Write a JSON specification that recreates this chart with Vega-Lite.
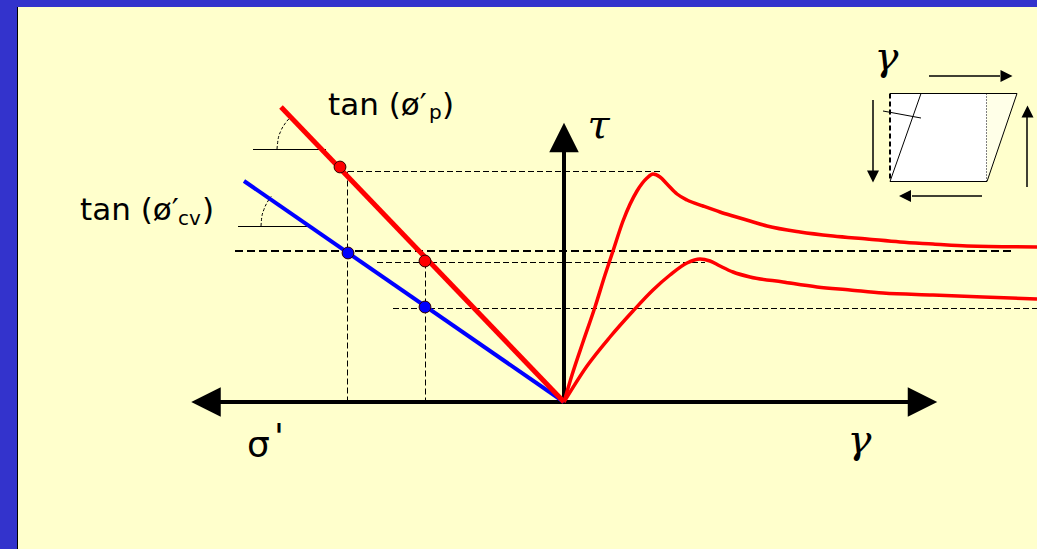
{
  "$schema": "https://vega.github.io/schema/vega-lite/v6.json",
  "width": 1019,
  "height": 542,
  "autosize": {"type": "none"},
  "padding": {"left": 18, "top": 7, "right": 0, "bottom": 0},
  "background": "#3333CC",
  "config": {"view": {"stroke": null, "fill": "#FFFFCC"}},
  "datasets": {
    "panel": [{"x": 326, "x2": 423, "y": 221, "y2": 309}],
    "wedge": [
      {"x": 423, "y": 309, "y2": 221},
      {"x": 453, "y": 309, "y2": 309}
    ],
    "segments": [
      {"kind": "frame", "x": -546.5, "y": -147, "x2": -546.5, "y2": 395},
      {"kind": "guide", "x": -216, "y": 230.5, "x2": 98, "y2": 230.5},
      {"kind": "guide", "x": -216.5, "y": 230.5, "x2": -216.5, "y2": 0},
      {"kind": "guide", "x": -187, "y": 139.5, "x2": 141, "y2": 139.5},
      {"kind": "guide", "x": -138.5, "y": 139.5, "x2": -138.5, "y2": 0},
      {"kind": "guide", "x": -171, "y": 93.5, "x2": 473, "y2": 93.5},
      {"kind": "guide-bold", "x": -329, "y": 151, "x2": 449, "y2": 151},
      {"kind": "angle", "x": -311, "y": 252.5, "x2": -238, "y2": 252.5},
      {"kind": "angle", "x": -326, "y": 175.5, "x2": -252, "y2": 175.5},
      {"kind": "icon", "x": 326, "y": 308.5, "x2": 453, "y2": 308.5},
      {"kind": "icon", "x": 326, "y": 220.5, "x2": 423, "y2": 220.5},
      {"kind": "icon", "x": 326, "y": 220.5, "x2": 357, "y2": 308.5},
      {"kind": "icon", "x": 423, "y": 220.5, "x2": 453, "y2": 308.5},
      {"kind": "icon", "x": 319, "y": 291, "x2": 357, "y2": 284},
      {"kind": "icon-dash", "x": 326, "y": 308.5, "x2": 326, "y2": 220.5},
      {"kind": "icon-dot", "x": 422.5, "y": 308.5, "x2": 422.5, "y2": 220.5},
      {"kind": "shaft", "x": 365, "y": 326, "x2": 436, "y2": 326},
      {"kind": "shaft", "x": 309, "y": 302, "x2": 309, "y2": 230},
      {"kind": "shaft", "x": 463, "y": 215, "x2": 463, "y2": 285},
      {"kind": "shaft", "x": 418, "y": 206, "x2": 348, "y2": 206},
      {"kind": "axis", "x": -349, "y": 0, "x2": 348, "y2": 0},
      {"kind": "axis", "x": 0, "y": 0, "x2": 0, "y2": 254},
      {"kind": "cv-line", "x": -320, "y": 221, "x2": 0, "y2": 0},
      {"kind": "peak-line", "x": -283, "y": 295, "x2": 0, "y2": 0}
    ],
    "curves": [
      {"series": "dense", "x": 0, "y": 0},
      {"series": "dense", "x": 8, "y": 27},
      {"series": "dense", "x": 19, "y": 60},
      {"series": "dense", "x": 31, "y": 95},
      {"series": "dense", "x": 41, "y": 127},
      {"series": "dense", "x": 49, "y": 151},
      {"series": "dense", "x": 59, "y": 181},
      {"series": "dense", "x": 73, "y": 211},
      {"series": "dense", "x": 83, "y": 224},
      {"series": "dense", "x": 89, "y": 228},
      {"series": "dense", "x": 96, "y": 225},
      {"series": "dense", "x": 103, "y": 218},
      {"series": "dense", "x": 113, "y": 208},
      {"series": "dense", "x": 123, "y": 202},
      {"series": "dense", "x": 139, "y": 196},
      {"series": "dense", "x": 156, "y": 190},
      {"series": "dense", "x": 169, "y": 186},
      {"series": "dense", "x": 186, "y": 181},
      {"series": "dense", "x": 203, "y": 176},
      {"series": "dense", "x": 236, "y": 170},
      {"series": "dense", "x": 269, "y": 166},
      {"series": "dense", "x": 303, "y": 163},
      {"series": "dense", "x": 336, "y": 160},
      {"series": "dense", "x": 369, "y": 158},
      {"series": "dense", "x": 403, "y": 156},
      {"series": "dense", "x": 473, "y": 155},
      {"series": "loose", "x": 0, "y": 0},
      {"series": "loose", "x": 23, "y": 36},
      {"series": "loose", "x": 46, "y": 65},
      {"series": "loose", "x": 69, "y": 91},
      {"series": "loose", "x": 89, "y": 112},
      {"series": "loose", "x": 106, "y": 127},
      {"series": "loose", "x": 123, "y": 139},
      {"series": "loose", "x": 136, "y": 143},
      {"series": "loose", "x": 146, "y": 141},
      {"series": "loose", "x": 156, "y": 136},
      {"series": "loose", "x": 169, "y": 130},
      {"series": "loose", "x": 186, "y": 125},
      {"series": "loose", "x": 219, "y": 120},
      {"series": "loose", "x": 253, "y": 115},
      {"series": "loose", "x": 286, "y": 112},
      {"series": "loose", "x": 319, "y": 109},
      {"series": "loose", "x": 369, "y": 107},
      {"series": "loose", "x": 419, "y": 105},
      {"series": "loose", "x": 473, "y": 103}
    ],
    "arcs": [
      {"series": "peak-arc", "x": -287, "y": 253},
      {"series": "peak-arc", "x": -286, "y": 262.1},
      {"series": "peak-arc", "x": -283.2, "y": 270.9},
      {"series": "peak-arc", "x": -278.6, "y": 278.9},
      {"series": "peak-arc", "x": -272.4, "y": 285.7},
      {"series": "cv-arc", "x": -303, "y": 176},
      {"series": "cv-arc", "x": -302.3, "y": 184.3},
      {"series": "cv-arc", "x": -300.1, "y": 192.4},
      {"series": "cv-arc", "x": -296.6, "y": 200},
      {"series": "cv-arc", "x": -292.8, "y": 205.6}
    ],
    "dots": [
      {"kind": "peak", "x": -224, "y": 235},
      {"kind": "peak", "x": -139, "y": 141},
      {"kind": "cv", "x": -216, "y": 149},
      {"kind": "cv", "x": -139, "y": 95}
    ],
    "heads": [
      {"kind": "axis", "dir": "left", "x": -358, "y": 0},
      {"kind": "axis", "dir": "right", "x": 358.5, "y": 0},
      {"kind": "axis", "dir": "up", "x": 0, "y": 264.5},
      {"kind": "icon", "dir": "right", "x": 442.5, "y": 326},
      {"kind": "icon", "dir": "down", "x": 309, "y": 225.5},
      {"kind": "icon", "dir": "up", "x": 463.5, "y": 290.5},
      {"kind": "icon", "dir": "left", "x": 341, "y": 206}
    ],
    "labels": [
      {"role": "main", "text": "tan (ø′", "x": -236, "y": 287},
      {"role": "sub", "text": "p", "x": -135, "y": 283},
      {"role": "main", "text": ")", "x": -122, "y": 287},
      {"role": "main", "text": "tan (ø′", "x": -484, "y": 182},
      {"role": "sub", "text": "cv", "x": -386, "y": 177},
      {"role": "main", "text": ")", "x": -362, "y": 182},
      {"role": "greek", "text": "τ", "x": 34.5, "y": 264},
      {"role": "greek", "text": "γ", "x": 295.5, "y": -51},
      {"role": "greek", "text": "γ", "x": 322.5, "y": 332},
      {"role": "sigma", "text": "σ", "x": -317, "y": -55},
      {"role": "sigma", "text": "'", "x": -290, "y": -47}
    ]
  },
  "encoding": {
    "x": {"field": "x", "type": "quantitative", "scale": {"domain": [-546, 473], "nice": false, "zero": false}, "axis": null},
    "y": {"field": "y", "type": "quantitative", "scale": {"domain": [-147, 395], "nice": false, "zero": false}, "axis": null}
  },
  "layer": [
    {
      "data": {"name": "panel"},
      "mark": {"type": "rect", "fill": "#FFFFFF"},
      "encoding": {"x2": {"field": "x2"}, "y2": {"field": "y2"}}
    },
    {
      "data": {"name": "wedge"},
      "mark": {"type": "area", "fill": "#FFFFE8", "opacity": 1},
      "encoding": {"y2": {"field": "y2"}}
    },
    {
      "data": {"name": "segments"},
      "transform": [{"filter": "datum.kind === 'frame'"}],
      "mark": {"type": "rule", "color": "#000000", "strokeWidth": 1},
      "encoding": {"x2": {"field": "x2"}, "y2": {"field": "y2"}}
    },
    {
      "data": {"name": "segments"},
      "transform": [{"filter": "datum.kind === 'guide'"}],
      "mark": {"type": "rule", "color": "#000000", "strokeWidth": 1, "strokeDash": [6, 3]},
      "encoding": {"x2": {"field": "x2"}, "y2": {"field": "y2"}}
    },
    {
      "data": {"name": "segments"},
      "transform": [{"filter": "datum.kind === 'guide-bold'"}],
      "mark": {"type": "rule", "color": "#000000", "strokeWidth": 2, "strokeDash": [8, 4]},
      "encoding": {"x2": {"field": "x2"}, "y2": {"field": "y2"}}
    },
    {
      "data": {"name": "segments"},
      "transform": [{"filter": "datum.kind === 'angle' || datum.kind === 'icon'"}],
      "mark": {"type": "rule", "color": "#000000", "strokeWidth": 1},
      "encoding": {"x2": {"field": "x2"}, "y2": {"field": "y2"}}
    },
    {
      "data": {"name": "segments"},
      "transform": [{"filter": "datum.kind === 'icon-dash'"}],
      "mark": {"type": "rule", "color": "#000000", "strokeWidth": 2, "strokeDash": [5, 3]},
      "encoding": {"x2": {"field": "x2"}, "y2": {"field": "y2"}}
    },
    {
      "data": {"name": "segments"},
      "transform": [{"filter": "datum.kind === 'icon-dot'"}],
      "mark": {"type": "rule", "color": "#000000", "strokeWidth": 1, "strokeDash": [1, 2]},
      "encoding": {"x2": {"field": "x2"}, "y2": {"field": "y2"}}
    },
    {
      "data": {"name": "segments"},
      "transform": [{"filter": "datum.kind === 'shaft'"}],
      "mark": {"type": "rule", "color": "#000000", "strokeWidth": 1.5},
      "encoding": {"x2": {"field": "x2"}, "y2": {"field": "y2"}}
    },
    {
      "data": {"name": "segments"},
      "transform": [{"filter": "datum.kind === 'axis'"}],
      "mark": {"type": "rule", "color": "#000000", "strokeWidth": 4},
      "encoding": {"x2": {"field": "x2"}, "y2": {"field": "y2"}}
    },
    {
      "data": {"name": "arcs"},
      "mark": {"type": "line", "color": "#000000", "strokeWidth": 1, "strokeDash": [3, 2], "interpolate": "monotone"},
      "encoding": {"detail": {"field": "series"}}
    },
    {
      "data": {"name": "curves"},
      "mark": {"type": "line", "color": "#FF0000", "strokeWidth": 3.5, "interpolate": "monotone"},
      "encoding": {"detail": {"field": "series"}}
    },
    {
      "data": {"name": "segments"},
      "transform": [{"filter": "datum.kind === 'cv-line'"}],
      "mark": {"type": "rule", "color": "#0000FF", "strokeWidth": 4},
      "encoding": {"x2": {"field": "x2"}, "y2": {"field": "y2"}}
    },
    {
      "data": {"name": "segments"},
      "transform": [{"filter": "datum.kind === 'peak-line'"}],
      "mark": {"type": "rule", "color": "#FF0000", "strokeWidth": 5},
      "encoding": {"x2": {"field": "x2"}, "y2": {"field": "y2"}}
    },
    {
      "data": {"name": "dots"},
      "mark": {"type": "point", "filled": true, "opacity": 1, "size": 140, "stroke": "#330000", "strokeWidth": 1},
      "encoding": {
        "fill": {"field": "kind", "type": "nominal", "scale": {"domain": ["peak", "cv"], "range": ["#FF0000", "#0000FF"]}, "legend": null}
      }
    },
    {
      "data": {"name": "heads"},
      "transform": [{"filter": "datum.kind === 'axis'"}],
      "mark": {"type": "point", "filled": true, "opacity": 1, "size": 870, "color": "#000000"},
      "encoding": {
        "shape": {"field": "dir", "type": "nominal", "scale": {"domain": ["left", "right", "up", "down"], "range": ["M1,-1L-1,0L1,1Z", "M-1,-1L1,0L-1,1Z", "M-1,1L0,-1L1,1Z", "M-1,-1L0,1L1,-1Z"]}, "legend": null}
      }
    },
    {
      "data": {"name": "heads"},
      "transform": [{"filter": "datum.kind === 'icon'"}],
      "mark": {"type": "point", "filled": true, "opacity": 1, "size": 144, "color": "#000000"},
      "encoding": {
        "shape": {"field": "dir", "type": "nominal", "scale": {"domain": ["left", "right", "up", "down"], "range": ["M1,-1L-1,0L1,1Z", "M-1,-1L1,0L-1,1Z", "M-1,1L0,-1L1,1Z", "M-1,-1L0,1L1,-1Z"]}, "legend": null}
      }
    },
    {
      "data": {"name": "labels"},
      "transform": [{"filter": "datum.role === 'main'"}],
      "mark": {"type": "text", "font": "DejaVu Sans", "fontSize": 31, "align": "left", "baseline": "alphabetic", "color": "#000000"},
      "encoding": {"text": {"field": "text"}}
    },
    {
      "data": {"name": "labels"},
      "transform": [{"filter": "datum.role === 'sub'"}],
      "mark": {"type": "text", "font": "DejaVu Sans", "fontSize": 20, "align": "left", "baseline": "alphabetic", "color": "#000000"},
      "encoding": {"text": {"field": "text"}}
    },
    {
      "data": {"name": "labels"},
      "transform": [{"filter": "datum.role === 'greek'"}],
      "mark": {"type": "text", "font": "DejaVu Serif", "fontStyle": "italic", "fontSize": 40, "align": "center", "baseline": "alphabetic", "color": "#000000"},
      "encoding": {"text": {"field": "text"}}
    },
    {
      "data": {"name": "labels"},
      "transform": [{"filter": "datum.role === 'sigma'"}],
      "mark": {"type": "text", "font": "DejaVu Sans", "fontSize": 36, "align": "left", "baseline": "alphabetic", "color": "#000000"},
      "encoding": {"text": {"field": "text"}}
    }
  ]
}
